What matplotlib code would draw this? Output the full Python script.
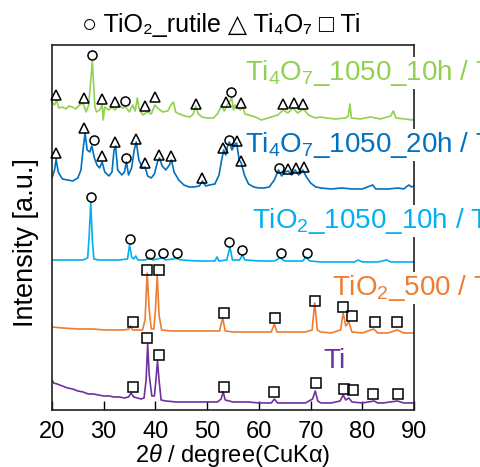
import matplotlib
matplotlib.use('Agg')
import matplotlib.pyplot as plt

plt.rcParams['font.family'] = ['Liberation Sans', 'DejaVu Sans']
plt.rcParams['mathtext.fontset'] = 'custom'
plt.rcParams['mathtext.rm'] = 'Liberation Sans'
plt.rcParams['mathtext.it'] = 'Liberation Sans:italic'

# XRD patterns (2theta in degree, stacked intensity in a.u.)
# Ti
ti_x = [20.0, 20.3, 21, 22, 23, 24, 25, 26, 27, 28, 29, 30, 31, 32, 33, 34, 34.8, 35.3, 35.8,
        36.5, 37.2, 37.8, 38.2, 38.5, 38.8, 39.3, 39.8, 40.1, 40.4, 40.7, 41.1, 42, 44, 46, 48,
        50, 52, 52.7, 53.1, 53.5, 55, 58, 60, 62.4, 63.0, 63.6, 66, 69, 70.4, 70.9, 71.4, 72,
        74, 75.7, 76.3, 76.8, 77.4, 78, 80, 82.3, 83, 84, 86.8, 88, 90]
ti_y = [30, 27, 26, 24, 22, 21, 19, 18, 16, 16, 15, 14, 14, 13, 13, 12, 13, 17, 13,
        12, 11, 12, 30, 66, 35, 14, 14, 30, 49, 30, 10, 9, 8, 8, 8,
        8, 8, 11, 18, 10, 8, 8, 7, 7, 11, 7, 7, 7, 11, 19, 9, 7,
        7, 9, 15, 10, 12, 8, 7, 9, 7, 7, 9, 7, 7]

# TiO2_500
t500_x = [20, 22, 25, 28, 30, 32, 34, 34.9, 35.2, 35.6, 36.5, 37.5, 38.0, 38.4, 38.8, 39.2,
          39.7, 40.0, 40.35, 40.7, 41.2, 43, 46, 50, 52.4, 53.0, 53.5, 55, 58, 60, 62.4, 63.0,
          63.5, 66, 69, 70.3, 70.8, 71.3, 72, 74, 75.8, 76.3, 76.8, 77.4, 78, 80, 82.2, 83, 85,
          86.8, 88, 90]
t500_y = [83, 82, 81, 81, 80, 80, 80, 81, 84, 80, 80, 80, 90, 137, 100, 81,
          81, 100, 135, 95, 80, 79, 79, 79, 79, 92, 79, 78, 78, 78, 78, 86,
          78, 78, 78, 80, 107, 80, 78, 77, 80, 97, 84, 88, 78, 77, 81, 77, 77,
          80, 77, 77]

# TiO2_1050_10h
t1050_x = [20, 23, 26, 26.9, 27.2, 27.5, 27.8, 28.1, 29, 31, 33, 34.6, 35.0, 35.4, 35.8, 36.2,
           36.6, 38, 39.0, 39.5, 41.3, 42, 44.0, 45, 48, 51.5, 51.9, 52.3, 53.8, 54.4, 54.9,
           56.3, 56.8, 57.3, 60, 63, 64.1, 65, 68.5, 69.1, 69.8, 72, 74, 76, 78.5, 79.2, 80,
           83, 84.7, 85.5, 88, 90]
t1050_y = [150, 150, 150, 152, 175, 208, 170, 151, 150, 150, 150, 151, 165, 153, 151, 154,
           150, 150, 152, 150, 152, 150, 151.5, 150, 149, 149, 153, 149, 150, 163, 150,
           150, 155, 150, 149, 149, 152, 149, 149, 153, 149, 148, 148, 148, 148, 150, 148,
           148, 150, 148, 148, 148]

# Ti4O7_1050_20h
m20_x = [20, 20.5, 20.8, 21.2, 22, 23, 24, 25, 25.6, 26.0, 26.4, 26.8, 27.3, 27.7, 28.2, 28.7,
         29.2, 29.7, 30.2, 31, 31.6, 32.0, 32.3, 32.7, 33.5, 34.0, 34.4, 34.8, 35.4, 35.9,
         36.3, 36.8, 37.5, 38.0, 38.5, 39.2, 39.8, 40.4, 40.8, 41.3, 42.0, 42.7, 43.1, 43.6,
         44.5, 45.5, 46.5, 47.5, 48.5, 49.1, 49.7, 50.5, 51.5, 52.3, 52.8, 53.2, 53.6, 54.0,
         54.3, 54.8, 55.3, 55.7, 56.2, 56.6, 57.2, 58, 59, 60, 61, 62, 63, 63.8, 64.4, 65,
         65.7, 66.3, 67.0, 67.7, 68.5, 69.2, 70, 71, 72, 74, 76, 78, 80, 82, 82.6, 85, 87,
         88, 89, 89.5, 90]
m20_y = [232, 240, 251, 238, 231, 230, 229, 232, 240, 260, 277, 260, 258, 264, 252, 245,
         242, 248, 238, 234, 238, 260, 264, 240, 235, 238, 248, 235, 242, 260,
         268, 250, 242, 243, 234, 232, 236, 248, 252, 244, 240, 245, 250, 238,
         230, 225, 223, 223, 224, 229, 224, 225, 226, 235, 250, 260, 255, 265,
         268, 260, 265, 267, 250, 247, 235, 226, 223, 222, 222, 223, 230, 240, 234, 238,
         239, 235, 240, 235, 240, 233, 227, 223, 222, 221, 222, 221, 221, 225, 221, 221, 222,
         221, 225, 223, 224]

# Ti4O7_1050_10h
m10_x = [20.0, 20.5, 20.9, 21.3, 22, 22.7, 23.3, 23.9, 24.6, 25.3, 26.0, 26.6, 27.1, 27.5,
         27.8, 28.1, 28.3, 28.6, 29.2, 29.7, 29.9, 30.2, 31, 31.6, 32.2, 32.9, 33.6, 34.2, 35,
         35.6, 36.1, 36.5, 36.9, 37.6, 38.4, 39.2, 39.9, 40.4, 41.4, 42.4, 43.0, 43.5, 43.9,
         44.6, 45.7, 46.7, 47.3, 47.8, 48.3, 49.0, 49.9, 51.2, 52.0, 52.8, 53.3, 53.9, 54.75,
         55.1, 55.4, 56.4, 56.9, 57.3, 58.0, 59.3, 60.5, 61.8, 63.0, 63.7, 64.7, 65.6, 66.6,
         67.5, 68.6, 69.6, 70.9, 71.9, 72.9, 74.8, 76.8, 77.3, 77.6, 77.9, 79.6, 81.6, 83.5,
         85.5, 86.0, 86.5, 88.3, 89.6, 90]
m10_y = [308, 305, 310, 302, 303, 301, 304, 303, 301, 305, 307, 298, 305, 330,
         349, 320, 303, 298, 300, 305, 290, 303, 300, 303, 300, 305, 302, 303, 298,
         305, 299, 312, 300, 295, 298, 296, 305, 302, 298, 299, 305, 308, 298,
         296, 294, 293, 296, 304, 296, 293, 292, 292, 296, 305, 299, 305, 312,
         300, 305, 300, 303, 296, 295, 293, 290, 292, 294, 295, 300, 297, 302,
         297, 301, 295, 292, 293, 292, 291, 292, 294, 306, 292, 291, 293, 291,
         294, 299, 292, 291, 290, 291]

# phase markers (2theta, height)
ti_sq_x = [35.6, 38.4, 40.75, 53.3, 63.0, 71.1, 76.5, 78.3, 82.1, 86.9]
ti_sq_y = [22.7, 72, 55, 23.3, 17.7, 26.7, 20.7, 20, 15.7, 15.7]
t500_sq_x = [35.6, 38.3, 40.75, 53.3, 63.2, 70.9, 76.2, 78.0, 82.5, 86.8]
t500_sq_y = [88, 140, 140, 96.7, 91.7, 109.3, 103.3, 94, 87.7, 87.7]
t1050_ci_x = [27.5, 35.0, 38.95, 41.5, 44.1, 54.3, 56.8, 64.2, 69.3]
t1050_ci_y = [213.3, 170.7, 156, 156.7, 156.7, 168.3, 160, 156.7, 156.7]
m20_ci_x = [28.2, 34.3, 54.2, 63.9]
m20_ci_y = [270, 252.3, 270, 241.7]
m20_tr_x = [20.8, 26.2, 29.7, 32.2, 36.2, 38.0, 40.75, 43.1, 49.1, 53.0, 55.8, 56.5, 65.7,
            67.2, 68.7]
m20_tr_y = [257.3, 281.7, 254, 268.3, 271.3, 246.7, 255, 254, 232.3, 261.7, 269.3, 249,
            241, 241.7, 242.7]
m10_ci_x = [27.8, 34.2, 54.6]
m10_ci_y = [355, 309.3, 317.7]
m10_tr_x = [20.8, 26.2, 29.7, 32.2, 37.9, 39.9, 47.85, 53.6, 56.6, 64.7, 66.7, 68.5]
m10_tr_y = [315, 311.7, 310.7, 308.3, 304, 313.3, 305.7, 308.3, 306.7, 306, 306.7, 306]

curves = [
    (ti_x, ti_y, '#7030A0', 'Ti', 72.4, 42),
    (t500_x, t500_y, '#ED7D31', 'TiO$_2$_500 / Ti', 74.2, 115),
    (t1050_x, t1050_y, '#00B0F0', 'TiO$_2$_1050_10h / Ti', 58.7, 182),
    (m20_x, m20_y, '#0070C0', 'Ti$_4$O$_7$_1050_20h / Ti', 57.3, 258),
    (m10_x, m10_y, '#92D050', 'Ti$_4$O$_7$_1050_10h / Ti', 57.3, 330),
]

fig = plt.figure(figsize=(4.8, 4.67), dpi=100)
ax = fig.add_axes([0.1083, 0.1221, 0.7542, 0.7816])

for x, y, color, label, lx, ly in curves:
    ax.plot(x, y, color=color, lw=1.2)
    ax.text(lx, ly, label, color=color, fontsize=20, va='baseline', ha='left',
            clip_on=False, zorder=5,
            bbox=dict(facecolor='white', edgecolor='none', pad=1))

mk = dict(ls='none', mfc='none', mec='black', ms=6.5, mew=1.1, clip_on=False, zorder=6)
ax.plot(ti_sq_x, ti_sq_y, marker='s', **mk)
ax.plot(t500_sq_x, t500_sq_y, marker='s', **mk)
ax.plot(t1050_ci_x, t1050_ci_y, marker='o', **mk)
ax.plot(m20_ci_x, m20_ci_y, marker='o', **mk)
ax.plot(m20_tr_x, m20_tr_y, marker='^', **mk)
ax.plot(m10_ci_x, m10_ci_y, marker='o', **mk)
ax.plot(m10_tr_x, m10_tr_y, marker='^', **mk)

ax.set_xlim(20, 90)
ax.set_ylim(0, 365)
ax.set_xticks(range(20, 91, 10))
ax.set_yticks([])
ax.tick_params(axis='x', direction='in', length=6.5, width=1, labelsize=17, pad=8)
for s in ax.spines.values():
    s.set_linewidth(1.2)
    s.set_color('#222222')
ax.set_xlabel('2$\\mathit{θ}$ / degree(CuKα)', fontsize=17, labelpad=-1)
ax.set_ylabel('Intensity [a.u.]', fontsize=19.5)
ax.yaxis.set_label_coords(-0.035, 0.4575)

fig.text(0.46, 0.932, '○ TiO₂_rutile △ Ti₄O₇ □ Ti', fontsize=18,
         ha='center', va='baseline')

fig.savefig('out.png', dpi=100)
